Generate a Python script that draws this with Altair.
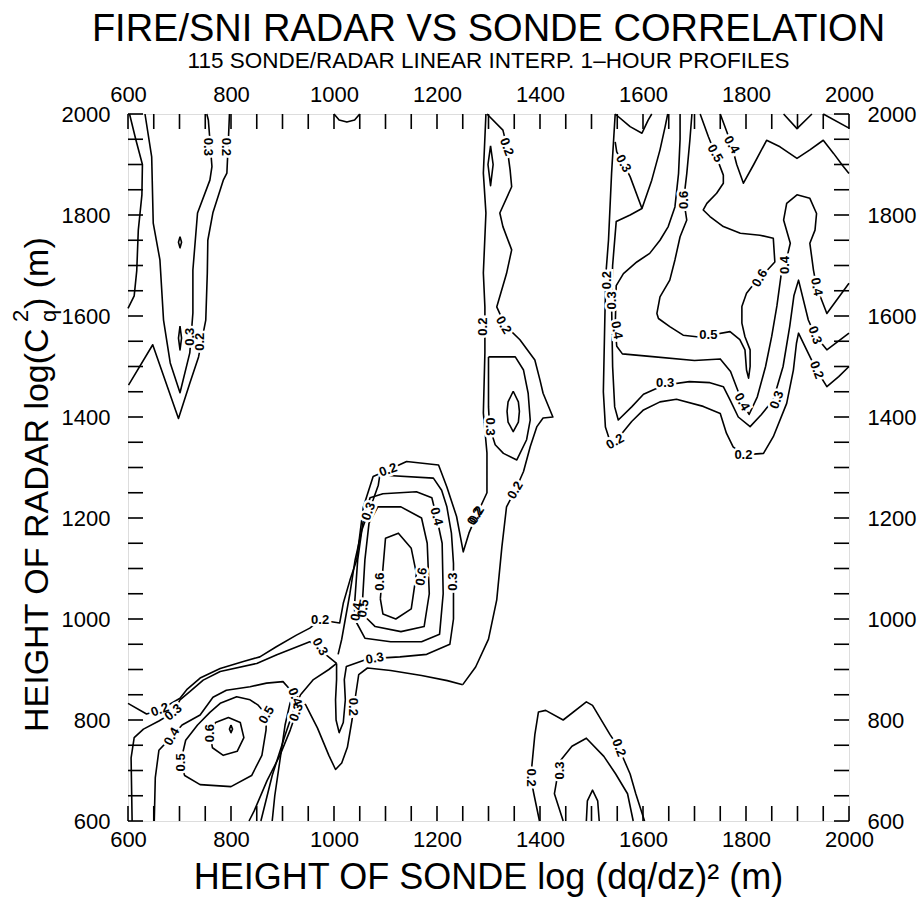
import altair as alt
import pandas as pd

# ---------------- data: contour polylines (sonde height, radar height) ----------------
c_left_edge = [(603,2000),(615,1950),(628,1900),(627,1840),(620,1770),(617,1690),(612,1640),(600,1615)]
c_left_02 = [(601,1463),(648,1543),(698,1397),(720,1467),(737,1519),(751,1592),(754,1685),(755,1750),
             (765,1805),(785,1869),(792,1883),(795,1950),(797,2000)]
c_left_03 = [(633,2000),(646,1915),(649,1784),(662,1711),(669,1592),(682,1507),(701,1448),(720,1527),
             (726,1606),(726,1691),(735,1804),(759,1869),(763,1896),(756,1988),(753,2000)]
c_left_dot1 = [(701,1757),(704,1746),(701,1735),(698,1746),(701,1757)]
c_left_dot2 = [(701,1580),(704,1556),(701,1533),(698,1556),(701,1580)]
c_top_arc = [(1000,2000),(1010,1988),(1025,1984),(1040,1988),(1050,2000)]

c_mid_02 = [(1295,2000),(1290,1883),(1295,1804),(1290,1685),(1293,1618),(1293,1527),(1290,1408),
            (1297,1329),(1297,1250),(1277,1206),(1262,1170),(1251,1133),(1238,1203),(1219,1262),
            (1203,1305),(1141,1312),(1105,1295),(1076,1282),(1057,1222),(1044,1117),(1031,1077),
            (1018,1031),(1011,992),(973,998),(953,982),(927,968),(888,945),(856,925),(824,916),
            (779,902),(740,883),(714,860),(701,843),(662,820),(636,812),(600,833)]
c_mid_02b = [(1297,2000),(1328,1968),(1336,1935),(1342,1889),(1345,1856),(1322,1804),(1328,1777),
             (1345,1731),(1335,1684),(1316,1618),(1332,1582),(1361,1553),(1390,1513),(1400,1473),
             (1406,1447),(1425,1400),(1406,1398),(1394,1381),(1381,1341),(1368,1292),(1352,1255),
             (1335,1222),(1326,1143),(1316,1038),(1300,960),(1275,905),(1250,870)]
c_mid_03 = [(1300,1519),(1352,1519),(1368,1493),(1377,1447),(1381,1394),(1374,1355),(1355,1315),
            (1329,1328),(1313,1345),(1302,1381),(1300,1420),(1300,1519)]
c_mid_04 = [(1348,1451),(1358,1430),(1360,1411),(1358,1390),(1348,1371),(1338,1390),(1336,1411),
            (1338,1430),(1348,1451)]
c_mid_top = [(1304,1937),(1309,1900),(1304,1858),(1299,1900),(1304,1937)]

c_clu_03 = [(1008,930),(1015,960),(1022,1000),(1031,1051),(1041,1117),(1054,1176),(1067,1213),(1076,1236),
            (1086,1265),(1089,1285),(1193,1279),(1209,1255),(1219,1223),(1228,1170),(1232,1110),
            (1232,1074),(1232,1000),(1225,950),(1180,930),(1128,925),(1079,922),(1057,918),(1024,906),
            (1020,880),(1022,840),(1018,795),(1010,775),(1004,800),(1003,840),(1005,880),(1005,912)]
c_clu_04 = [(1040,1030),(1046,1117),(1056,1190),(1070,1240),(1095,1248),(1160,1252),(1190,1240),
            (1199,1203),(1210,1150),(1212,1050),(1205,970),(1170,955),(1110,955),(1060,962),(1040,1000),(1040,1030)]
c_clu_05 = [(1055,1030),(1060,1117),(1068,1190),(1085,1222),(1130,1222),(1170,1200),(1181,1150),
            (1185,1050),(1175,985),(1130,975),(1080,985),(1060,1005),(1055,1030)]
c_clu_06 = [(1090,1040),(1095,1100),(1100,1160),(1125,1170),(1150,1140),(1160,1090),(1150,1020),
            (1120,1000),(1095,1010),(1090,1040)]

c_ll_03 = [(1005,912),(953,955),(889,929),(850,912),(779,896),(746,879),(720,856),(701,840),(688,815),
           (660,798),(630,782),(612,765),(606,725),(608,600)]
c_ll_03r = [(858,600),(880,690),(905,770),(920,815),(935,850),(960,880),(990,900),(1005,912)]
c_ll_04 = [(651,600),(653,686),(660,740),(685,767),(705,790),(740,810),(765,845),(791,859),(837,866),
           (869,873),(901,876),(915,860),(924,846),(925,810),(915,780),(895,730),(870,680),(845,620),(835,600)]
c_ll_05 = [(702,716),(710,690),(740,672),(800,668),(840,690),(860,730),(868,780),(869,810),(852,830),
           (837,840),(811,846),(779,833),(759,815),(735,790),(712,760),(702,716)]
c_ll_06 = [(759,774),(770,795),(795,805),(818,795),(825,765),(812,738),(785,730),(764,745),(759,774)]
c_ll_dot = [(800,790),(803,782),(800,775),(797,782),(800,790)]
c_u_02 = [(880,600),(885,650),(895,720),(905,790),(915,835),(925,850),(945,830),(968,784),(990,730),
          (1003,702),(1015,715),(1026,746),(1035,800),(1042,849),(1048,890),(1065,903),(1110,898),
          (1170,888),(1220,878),(1250,870)]

c_lr_02 = [(1399,600),(1388,654),(1382,686),(1390,771),(1397,816),(1411,819),(1445,800),(1490,836),
           (1502,829),(1536,771),(1553,745),(1575,693),(1586,654),(1603,600)]
c_lr_03 = [(1445,600),(1428,654),(1439,719),(1462,748),(1490,764),(1524,728),(1547,693),(1570,654),(1581,600)]
c_lr_04 = [(1490,600),(1492,640),(1502,661),(1512,640),(1515,600)]

c_ur_02 = [(1546,2000),(1539,1883),(1533,1750),(1528,1684),(1526,1600),(1523,1450),(1527,1380),
           (1535,1355),(1546,1351),(1578,1391),(1601,1414),(1633,1430),(1665,1435),(1717,1421),
           (1750,1407),(1762,1368),(1775,1341),(1795,1325),(1834,1328),(1853,1361),(1879,1427),
           (1892,1493),(1898,1546),(1902,1566),(1921,1526),(1937,1493),(1957,1460),(1980,1480),(2000,1500)]
c_ur_v = [(1546,2000),(1575,1975),(1598,1962),(1610,1988),(1617,2000)]
c_ur_03 = [(1648,2000),(1643,1975),(1633,1929),(1617,1869),(1598,1813),(1575,1800),(1548,1787),
           (1541,1700),(1539,1625),(1541,1500),(1545,1420),(1552,1394),(1578,1420),(1601,1445),
           (1640,1463),(1690,1470),(1730,1468),(1756,1460),(1769,1434),(1785,1400),(1808,1381),
           (1830,1405),(1853,1434),(1872,1500),(1885,1580),(1893,1640),(1902,1671),(1921,1592),
           (1934,1562),(1957,1533),(2000,1566)]
c_ur_03b = [(1598,1813),(1575,1876),(1562,1902),(1549,1925),(1546,1945)]
c_ur_04 = [(1672,2000),(1672,1950),(1669,1882),(1662,1816),(1649,1777),(1633,1750),(1613,1724),
           (1588,1707),(1562,1684),(1548,1660),(1546,1575),(1549,1540),(1560,1525),(1613,1520),
           (1700,1512),(1750,1515),(1770,1490),(1785,1450),(1792,1430),(1806,1405),(1822,1440),
           (1838,1500),(1850,1560),(1860,1620),(1868,1680),(1876,1701),(1886,1744),(1873,1790),
           (1879,1823),(1899,1840),(1924,1833),(1937,1803),(1934,1770),(1924,1744),(1931,1691),
           (1937,1658),(1957,1605),(2000,1665)]
c_ur_05 = [(1695,2000),(1691,1948),(1685,1882),(1679,1830),(1685,1790),(1672,1757),(1662,1711),
           (1652,1671),(1633,1638),(1627,1605),(1630,1595),(1652,1579),(1678,1562),(1704,1559),
           (1730,1562),(1769,1569),(1788,1553),(1798,1533),(1801,1493),(1805,1477),(1808,1500),
           (1808,1533),(1798,1559),(1792,1586),(1792,1619),(1801,1645),(1811,1658),(1827,1675),
           (1856,1707),(1853,1754),(1827,1760),(1789,1764),(1756,1777),(1730,1797),(1717,1810),
           (1724,1823),(1743,1843),(1756,1863),(1756,1879),(1740,1922),(1727,1955),(1711,2000)]
c_ur_04top = [(1750,2000),(1772,1939),(1782,1900),(1795,1863),(1815,1900),(1840,1948),(1866,1935),
              (1899,1912),(1924,1929),(1950,1948),(1970,1922),(1989,1896),(2000,1882)]
c_ur_corner = [(1950,2000),(2000,1972)]
c_ur_v2 = [(1873,2000),(1899,1971),(1928,2000)]

contours = {
    "le": c_left_edge, "l02": c_left_02, "l03": c_left_03, "ld1": c_left_dot1, "ld2": c_left_dot2,
    "ta": c_top_arc, "m02": c_mid_02, "m02b": c_mid_02b, "m03": c_mid_03, "m04": c_mid_04,
    "mt": c_mid_top, "k03": c_clu_03, "k04": c_clu_04, "k05": c_clu_05, "k06": c_clu_06,
    "ll03": c_ll_03, "ll03r": c_ll_03r, "ll04": c_ll_04, "ll05": c_ll_05, "ll06": c_ll_06,
    "lld": c_ll_dot, "u02": c_u_02,
    "lr02": c_lr_02, "lr03": c_lr_03, "lr04": c_lr_04,
    "ur02": c_ur_02, "urv": c_ur_v, "ur03": c_ur_03, "ur03b": c_ur_03b, "ur04": c_ur_04,
    "ur05": c_ur_05, "ur04t": c_ur_04top, "urc": c_ur_corner, "urv2": c_ur_v2,
}

# contour labels: x, y, text, angle
lab_x = [756, 790, 720, 740, 1335, 1290, 1329, 1303, 1277, 1352, 1105, 1067, 1199, 1089, 1170, 1232,
         1274, 1044, 1057, 1079, 973, 973, 662, 688, 1382, 1439, 1553, 1530, 1539, 1549, 1546, 1795,
         1937, 1934, 1937, 1562, 1740, 1772, 1679, 1827, 1876, 1727, 1643, 1792, 1860,
         685, 702, 869, 759, 924, 927, 1037]
lab_y = [1935, 1935, 1559, 1549, 1935, 1579, 1582, 1381, 1206, 1255, 1295, 1213, 1203, 1074, 1084, 1074,
         1203, 1014, 1021, 922, 945, 998, 820, 815, 686, 700, 745, 1671, 1631, 1572, 1351, 1325,
         1658, 1562, 1493, 1902, 1922, 1939, 1830, 1675, 1701, 1562, 1467, 1430, 1434,
         767, 716, 810, 774, 846, 815, 826]
lab_t = ["0.3", "0.2", "0.3", "0.2", "0.2", "0.2", "0.2", "0.3", "0.2", "0.2", "0.2", "0.3", "0.4", "0.6",
         "0.6", "0.3", "0.2", "0.4", "0.5", "0.3", "0.3", "0.2", "0.2", "0.3", "0.2", "0.3", "0.2", "0.2",
         "0.3", "0.4", "0.2", "0.2", "0.4", "0.3", "0.2", "0.3", "0.5", "0.4", "0.6", "0.6", "0.4", "0.5",
         "0.3", "0.4", "0.3",
         "0.4", "0.5", "0.5", "0.6", "0.4", "0.3", "0.2"]
lab_a = [90, 90, 270, 270, 70, 270, 60, 90, 300, 300, 340, 290, 75, 270, 280, 270, 300, 280, 280, 350,
         60, 0, 340, 320, 90, 270, 70, 270, 270, 80, 330, 0, 80, 70, 70, 60, 60, 60, 270, 300, 270, 0,
         0, 60, 290,
         300, 270, 300, 270, 70, 290, 90]

tick_vals = list(range(600, 2001, 50))
label_vals = list(range(600, 2001, 200))

# ---------------- build ----------------
rows = []
for cid, pts in contours.items():
    for i, (x, y) in enumerate(pts):
        rows.append({"cid": cid, "o": i, "x": x, "y": y})
df = pd.DataFrame(rows)
labels = pd.DataFrame({"x": lab_x, "y": lab_y, "t": lab_t, "a": lab_a})
ticks = pd.DataFrame({"v": tick_vals})

W, H = 721, 707
FONT = "Liberation Sans"
xs = alt.Scale(domain=[600, 2000], nice=False, zero=False)
ys = alt.Scale(domain=[600, 2000], nice=False, zero=False)

def xaxis(orient):
    return alt.Axis(orient=orient, values=label_vals, format="d", tickSize=0, domain=False, grid=False,
                    labelFont=FONT, labelFontSize=22, labelColor="black", labelPadding=8,
                    title=None, labelFlush=False)

def yaxis(orient):
    return alt.Axis(orient=orient, values=label_vals, format="d", tickSize=0, domain=False, grid=False,
                    labelFont=FONT, labelFontSize=22, labelColor="black", labelPadding=18,
                    title=None, labelFlush=False)

XN = alt.X("x:Q", scale=xs, axis=None)
YN = alt.Y("y:Q", scale=ys, axis=None)

lines = alt.Chart(df).mark_line(color="black", strokeWidth=1.6, strokeJoin="round").encode(
    x=alt.X("x:Q", scale=xs, axis=xaxis("bottom")),
    y=alt.Y("y:Q", scale=ys, axis=yaxis("left")),
    detail="cid:N", order="o:Q")

axis2 = alt.Chart(ticks).mark_point(opacity=0).encode(
    x=alt.X("v:Q", scale=xs, axis=xaxis("top")),
    y=alt.Y("v:Q", scale=ys, axis=yaxis("right")))

halo = alt.Chart(labels).mark_text(font=FONT, fontSize=13, fontWeight="bold", color="white",
                                   stroke="white", strokeWidth=5).encode(
    x=XN, y=YN, text="t:N", angle=alt.Angle("a:Q", scale=None))
txt = alt.Chart(labels).mark_text(font=FONT, fontSize=13, fontWeight="bold", color="black").encode(
    x=XN, y=YN, text="t:N", angle=alt.Angle("a:Q", scale=None))

TL = 15
VX = alt.X("v:Q", scale=xs, axis=None)
VY = alt.Y("v:Q", scale=ys, axis=None)
tb = alt.Chart(ticks).mark_rule(color="black", strokeWidth=1.6).encode(
    x=VX, y=alt.value(H), y2=alt.value(H - TL))
tt = alt.Chart(ticks).mark_rule(color="black", strokeWidth=1.6).encode(
    x=VX, y=alt.value(0), y2=alt.value(TL))
tl = alt.Chart(ticks).mark_rule(color="black", strokeWidth=1.6).encode(
    y=VY, x=alt.value(0), x2=alt.value(TL))
tr = alt.Chart(ticks).mark_rule(color="black", strokeWidth=1.6).encode(
    y=VY, x=alt.value(W), x2=alt.value(W - TL))

title_df = pd.DataFrame({"k": [0]})
def tx(text, x, y, size, angle=0, align="center", font=FONT):
    return alt.Chart(title_df).mark_text(text=text, font=font, fontSize=size, align=align,
                                         baseline="alphabetic", angle=angle, color="black").encode(
        x=alt.value(x), y=alt.value(y))

YOFF = 12
t1 = tx("FIRE/SNI RADAR VS SONDE CORRELATION", W / 2, 41 - 114, 38)
t2 = tx("115 SONDE/RADAR LINEAR INTERP. 1\u2013HOUR PROFILES", W / 2, 68 - 114, 22.5)
xt = tx("HEIGHT OF SONDE  log (dq/dz)\u00b2   (m)", W / 2, 889 - 114, 36)
yt1 = tx("HEIGHT OF RADAR  log(C", 48 - 128, 720 - 114 + YOFF, 34, angle=270, align="left")
yt2 = tx("q", 56 - 128, 310 - 114 + YOFF, 22, angle=270, align="left")
yt3 = tx("2", 28 - 128, 310 - 114 + YOFF, 22, angle=270, align="left")
yt4 = tx(")   (m)", 48 - 128, 297 - 114 + YOFF, 34, angle=270, align="left")

chart = alt.layer(lines, axis2, tb, tt, tl, tr, halo, txt, t1, t2, xt, yt1, yt2, yt3, yt4).resolve_axis(
    x="independent", y="independent").properties(
    width=W, height=H,
    autosize=alt.AutoSizeParams(type="none"),
    padding={"left": 128, "top": 114, "right": 73, "bottom": 78},
).configure_view(stroke="black", strokeWidth=2).configure(background="white")

chart.save("out.html", embed_options={"renderer": "svg", "actions": False})
